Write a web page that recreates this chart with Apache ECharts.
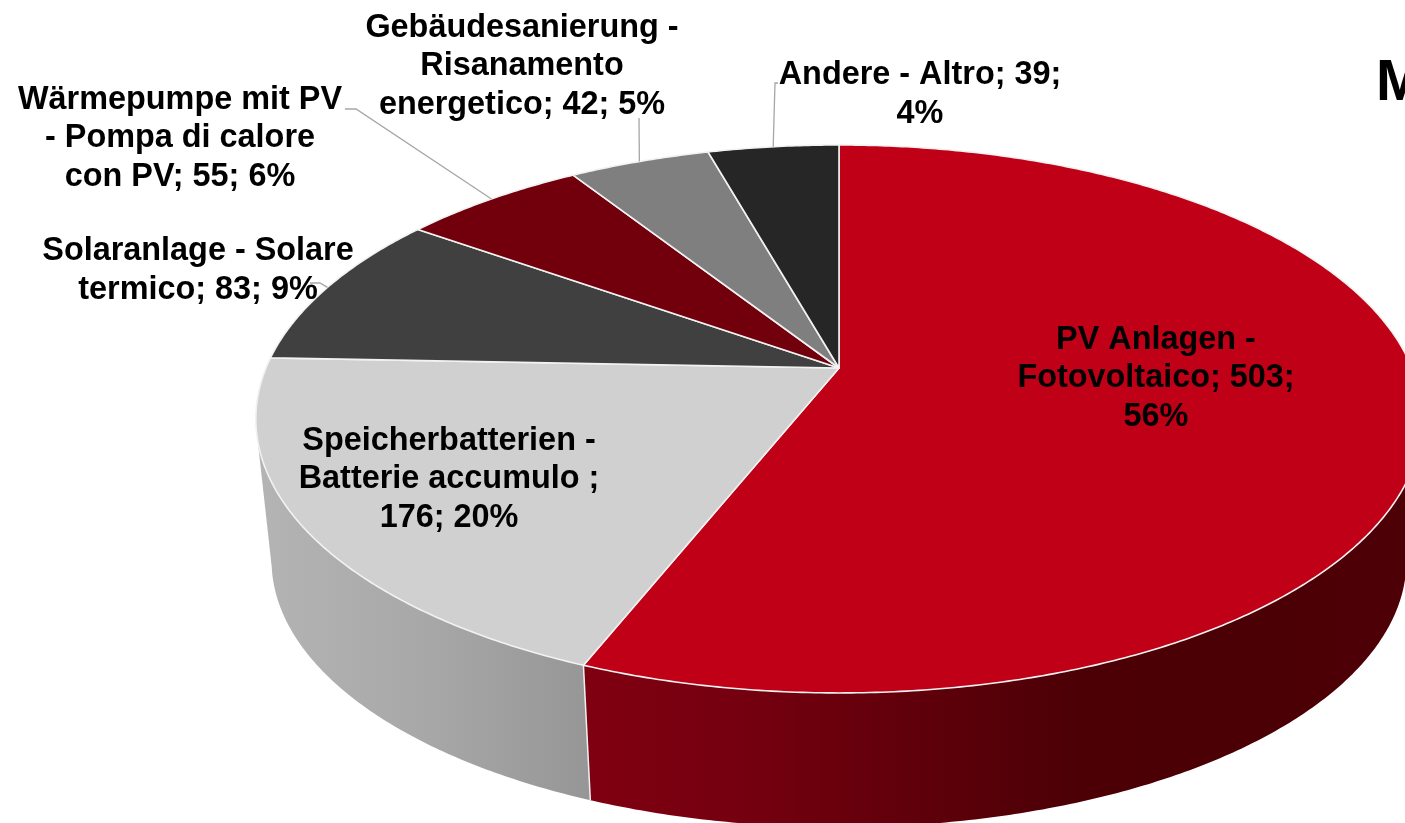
<!DOCTYPE html>
<html>
<head>
<meta charset="utf-8">
<style>
  html, body { margin: 0; padding: 0; background: #fff; overflow: hidden; }
  #chart { width: 1405px; height: 823px; }
</style>
<script src="https://cdn.jsdelivr.net/npm/echarts@6/dist/echarts.min.js"></script>
</head>
<body>
<div id="chart"></div>
<script>
const categories = [
  'PV Anlagen - Fotovoltaico',
  'Speicherbatterien - Batterie accumulo',
  'Solaranlage - Solare termico',
  'Wärmepumpe mit PV - Pompa di calore con PV',
  'Gebäudesanierung - Risanamento energetico',
  'Andere - Altro'
]
const values = [503, 176, 83, 55, 42, 39]
const percents = ['56%', '20%', '9%', '6%', '5%', '4%']
const labelTexts = [
  `PV Anlagen -\nFotovoltaico; ${values[0]};\n${percents[0]}`,
  `Speicherbatterien -\nBatterie accumulo ;\n${values[1]}; ${percents[1]}`,
  `Solaranlage - Solare\ntermico; ${values[2]}; ${percents[2]}`,
  `Wärmepumpe mit PV\n- Pompa di calore\ncon PV; ${values[3]}; ${percents[3]}`,
  `Gebäudesanierung -\nRisanamento\nenergetico; ${values[4]}; ${percents[4]}`,
  `Andere - Altro; ${values[5]};\n${percents[5]}`
]
const topColors = ['#c00017', '#d0d0d0', '#404040', '#72000c', '#7f7f7f', '#262626']

// label centres, and leader start points (the far end comes from the slice angle)
const labelPos = [[1156, 378.5], [449, 479.5], [198, 270.5], [180, 138.5], [522, 66.5], [920, 94.5]]
const leaderPaths = [null, null, [[310, 283], [320, 283]], [[345, 109], [356, 109]], [[639, 118]], [[778, 83], [775, 83]]]

// perspective of the tilted disc, measured on the picture
const cx = 839, cy = 368, rx = 573, ry = 264.5, persp = 0.186
const depth = 143, bottomScale = 0.973
// the side wall is only seen between these two angles
const wallFrom = 102, wallTo = 258

const total = values.reduce((a, b) => a + b, 0)
const startAngles = []
values.reduce((sum, v, i) => { startAngles[i] = sum / total * 360; return sum + v }, 0)

function rim(deg, scale, dy) {
  const t = deg * Math.PI / 180
  const u = Math.sin(t), v = Math.cos(t)
  const w = 1 + persp * v
  return [cx + scale * rx * u / w, cy + dy - scale * ry * v / w]
}
const topRim = deg => rim(deg, 1, 0)
const bottomRim = deg => rim(deg, bottomScale, depth)

const hGrad = (x0, x1, stops) => new echarts.graphic.LinearGradient(x0, 0, x1, 0,
  stops.map((c, i) => ({ offset: i / (stops.length - 1), color: c })), true)

const wallFills = [
  hGrad(590, 1405, ['#7f0011', '#74000f', '#5f000a', '#4c0006', '#4a0005', '#4e0007']),
  hGrad(258, 590, ['#b4b4b4', '#a8a8a8', '#969696']),
  '#303030', '#500008', '#606060', '#1c1c1c'
]

function renderWall(params) {
  const i = params.dataIndex
  const sliceEnd = startAngles[i] + values[i] / total * 360
  const from = Math.max(startAngles[i], wallFrom), to = Math.min(sliceEnd, wallTo)
  if (from >= to) return null
  const upper = [], lower = []
  for (let a = from; a < to; a += 0.5) {
    upper.push(topRim(a))
    lower.push(bottomRim(a))
  }
  upper.push(topRim(to))
  lower.push(bottomRim(to))
  const children = [{
    type: 'polygon',
    shape: { points: upper.concat(lower.reverse()) },
    style: { fill: wallFills[i] }
  }]
  // white seam on the front edge of the slice
  if (sliceEnd < wallTo) {
    children.push({
      type: 'line',
      shape: { x1: topRim(to)[0], y1: topRim(to)[1], x2: bottomRim(to)[0], y2: bottomRim(to)[1] },
      style: { stroke: '#f0f0f0', lineWidth: 1.5 },
      z2: 5
    })
  }
  return { type: 'group', children }
}

function renderTop(params) {
  const i = params.dataIndex
  const from = startAngles[i], to = from + values[i] / total * 360
  const points = [[cx, cy]]
  for (let a = from; a < to; a += 0.5) points.push(topRim(a))
  points.push(topRim(to))
  return {
    type: 'polygon',
    shape: { points },
    style: { fill: topColors[i], stroke: '#f2f2f2', lineWidth: 1.6, lineJoin: 'round' }
  }
}

function renderLabel(params) {
  const i = params.dataIndex
  const children = []
  if (leaderPaths[i]) {
    const mid = startAngles[i] + values[i] / total * 180
    children.push({
      type: 'polyline',
      shape: { points: leaderPaths[i].concat([topRim(mid)]) },
      style: { stroke: '#a6a6a6', lineWidth: 1.3, fill: 'none' }
    })
  }
  children.push({
    type: 'text',
    z2: 5,
    style: {
      text: labelTexts[i],
      x: labelPos[i][0],
      y: labelPos[i][1],
      align: 'center',
      verticalAlign: 'middle',
      font: 'bold 32.4px "Liberation Sans", Arial, sans-serif',
      lineHeight: 38.5,
      fill: '#000'
    }
  })
  return { type: 'group', children }
}

const seriesData = categories.map((name, i) => ({ name, value: values[i] }))
const chart = echarts.init(document.getElementById('chart'))
chart.setOption({
  animation: false,
  backgroundColor: '#fff',
  title: {
    text: 'M',
    left: 1376,
    top: 56,
    padding: 0,
    textStyle: { fontFamily: '"Liberation Sans", Arial, sans-serif', fontWeight: 'bold', fontSize: 57, color: '#000' }
  },
  series: [
    { type: 'custom', coordinateSystem: 'none', z: 1, silent: true, renderItem: renderWall, data: seriesData },
    { type: 'custom', coordinateSystem: 'none', z: 2, silent: true, renderItem: renderTop, data: seriesData },
    { type: 'custom', coordinateSystem: 'none', z: 3, silent: true, renderItem: renderLabel, data: seriesData }
  ]
})
</script>
</body>
</html>
